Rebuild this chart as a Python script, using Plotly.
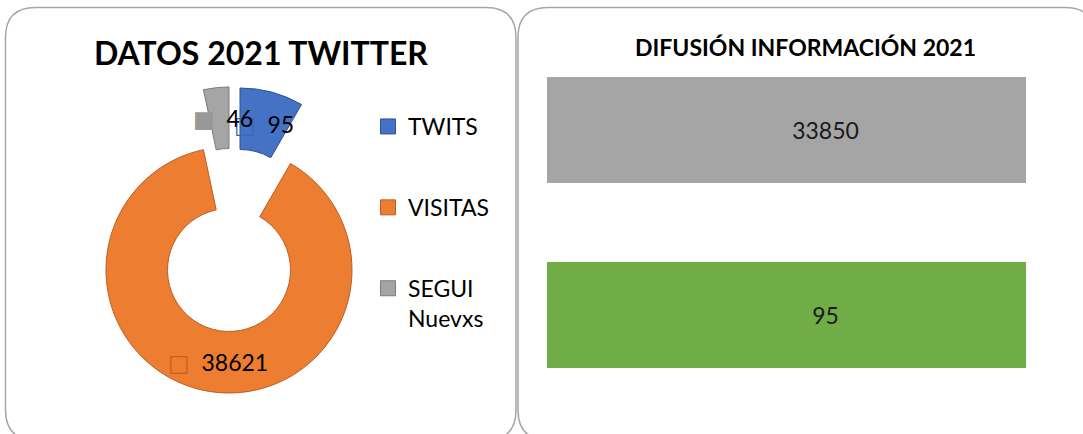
import math
import plotly.graph_objects as go

W, H = 1083, 434

# ---------------- data ----------------
pie_labels = ["TWITS", "VISITAS", "SEGUI<br>Nuevxs"]
pie_label_values = [95, 38621, 46]
pie_slice_degrees = [30, 318, 12]          # angular extent as drawn in the picture
pie_colors = ["#4472c4", "#ed7d31", "#a5a5a5"]
pie_edge_colors = ["#2f528f", "#b85f22", "#7a7a7a"]
pie_key_colors = ["#3d66b0", "#c8601c", "#989898"]

bar_categories = ["Serie 1", "Serie 2"]
bar_values = [33850, 95]
bar_colors = ["#a5a5a5", "#70ad47"]

FONT = "Lato, 'Open Sans', sans-serif"


def px_x(x):
    return x / W


def px_y(y):
    return 1 - y / H


fig = go.Figure()

# ---------------- donut (one trace per slice so exploded slices keep full radius) ----
center = (229, 270)
radius = 123
hole = 0.5
explode = [(11, -59), (0, 0), (0, -60)]
label_nudge = [(0, 2), (3, 1), (4, 0)]
square_glyph = ["□", "□", "■"]
transparent = "rgba(0,0,0,0)"

annotations = []
start = 0.0
total = sum(pie_slice_degrees)
for i in range(len(pie_labels)):
    cx = center[0] + explode[i][0]
    cy = center[1] + explode[i][1]
    colors = [pie_colors[j] if j == i else transparent for j in range(3)]
    lcolors = [pie_edge_colors[j] if j == i else transparent for j in range(3)]
    lwidths = [1 if j == i else 0 for j in range(3)]
    fig.add_trace(go.Pie(
        labels=pie_labels,
        values=pie_slice_degrees,
        textinfo="none",
        marker=dict(colors=colors, line=dict(color=lcolors, width=lwidths)),
        hole=hole,
        sort=False,
        direction="clockwise",
        rotation=0,
        showlegend=False,
        hoverinfo="skip",
        domain=dict(x=[px_x(cx - radius), px_x(cx + radius)],
                    y=[px_y(cy + radius), px_y(cy - radius)]),
    ))
    # data label at the middle of the slice ring
    ang = math.radians((start + pie_slice_degrees[i] / 2) * 360 / total)
    start += pie_slice_degrees[i]
    rmid = radius * (1 + hole) / 2
    lx = cx + rmid * math.sin(ang) + label_nudge[i][0]
    ly = cy - rmid * math.cos(ang) + label_nudge[i][1]
    annotations.append(dict(
        text=(f"<span style='color:{pie_key_colors[i]};font-family:DejaVu Sans;font-size:23px'>"
              f"{square_glyph[i]}</span>\u00a0\u00a0{pie_label_values[i]}"),
        x=px_x(lx), y=px_y(ly), xref="paper", yref="paper", showarrow=False,
        xanchor="center", yanchor="middle",
        font=dict(family=FONT, size=23, color="#000000"),
    ))

# legend entries for the donut
for i in range(len(pie_labels)):
    fig.add_trace(go.Scatter(
        x=[None], y=[None], mode="markers", name=pie_labels[i],
        legendgroup=f"g{i}",
        marker=dict(symbol="square", size=15, color=pie_colors[i],
                    line=dict(color=pie_edge_colors[i], width=1)),
        xaxis="x2", yaxis="y2", hoverinfo="skip",
    ))

# ---------------- bar chart ----------------
fig.add_trace(go.Bar(
    y=bar_categories,
    x=bar_values,
    orientation="h",
    marker=dict(color=bar_colors, line=dict(width=0)),
    text=[str(v) for v in bar_values],
    texttemplate="%{text}",
    textposition="inside",
    insidetextanchor="middle",
    textangle=0,
    textfont=dict(family=FONT, size=23, color="#1a1a1a"),
    showlegend=False,
    hoverinfo="skip",
    width=[0.573, 0.573],
    cliponaxis=True,
))

bar_top, bar_bottom = 37.5, 407.5
shapes = []


def rounded_rect(x0, y0, x1, y1, r):
    X = px_x
    Y = px_y
    p = (f"M {X(x0 + r)} {Y(y0)} L {X(x1 - r)} {Y(y0)} Q {X(x1)} {Y(y0)} {X(x1)} {Y(y0 + r)} "
         f"L {X(x1)} {Y(y1 - r)} Q {X(x1)} {Y(y1)} {X(x1 - r)} {Y(y1)} "
         f"L {X(x0 + r)} {Y(y1)} Q {X(x0)} {Y(y1)} {X(x0)} {Y(y1 - r)} "
         f"L {X(x0)} {Y(y0 + r)} Q {X(x0)} {Y(y0)} {X(x0 + r)} {Y(y0)} Z")
    return dict(type="path", path=p, xref="paper", yref="paper",
                line=dict(color="#a6a6a6", width=1.5), fillcolor="rgba(0,0,0,0)", layer="below")


shapes.append(rounded_rect(5.5, 7.5, 516, 440, 30))
shapes.append(rounded_rect(518, 7.5, 1095, 440, 30))

annotations += [
    dict(text="<b>DATOS 2021 TWITTER</b>", x=px_x(261), y=px_y(52), xref="paper", yref="paper",
         showarrow=False, font=dict(family=FONT, size=32, color="#000000"),
         xanchor="center", yanchor="middle"),
    dict(text="<b>DIFUSIÓN INFORMACIÓN 2021</b>", x=px_x(805), y=px_y(47), xref="paper", yref="paper",
         showarrow=False, font=dict(family=FONT, size=23, color="#000000"),
         xanchor="center", yanchor="middle"),
]

fig.update_layout(
    width=W, height=H,
    margin=dict(l=0, r=0, t=0, b=0),
    paper_bgcolor="white", plot_bgcolor="rgba(0,0,0,0)",
    barmode="stack", barnorm="percent",
    xaxis=dict(domain=[px_x(547), px_x(1026)], range=[0, 86], visible=False, fixedrange=True),
    yaxis=dict(domain=[px_y(bar_bottom), px_y(bar_top)], range=[1.5, -0.5], type="category",
               visible=False, fixedrange=True),
    xaxis2=dict(domain=[0, 0.01], visible=False, anchor="y2"),
    yaxis2=dict(domain=[0, 0.01], visible=False, anchor="x2"),
    legend=dict(x=px_x(368), y=px_y(105), xanchor="left", yanchor="top",
                font=dict(family=FONT, size=23, color="#000000"),
                tracegroupgap=48, valign="top", bgcolor="rgba(0,0,0,0)"),
    shapes=shapes,
    annotations=annotations,
)

fig.write_html("out.html", post_script="document.body.style.margin='0';",
               config={"displayModeBar": False})
